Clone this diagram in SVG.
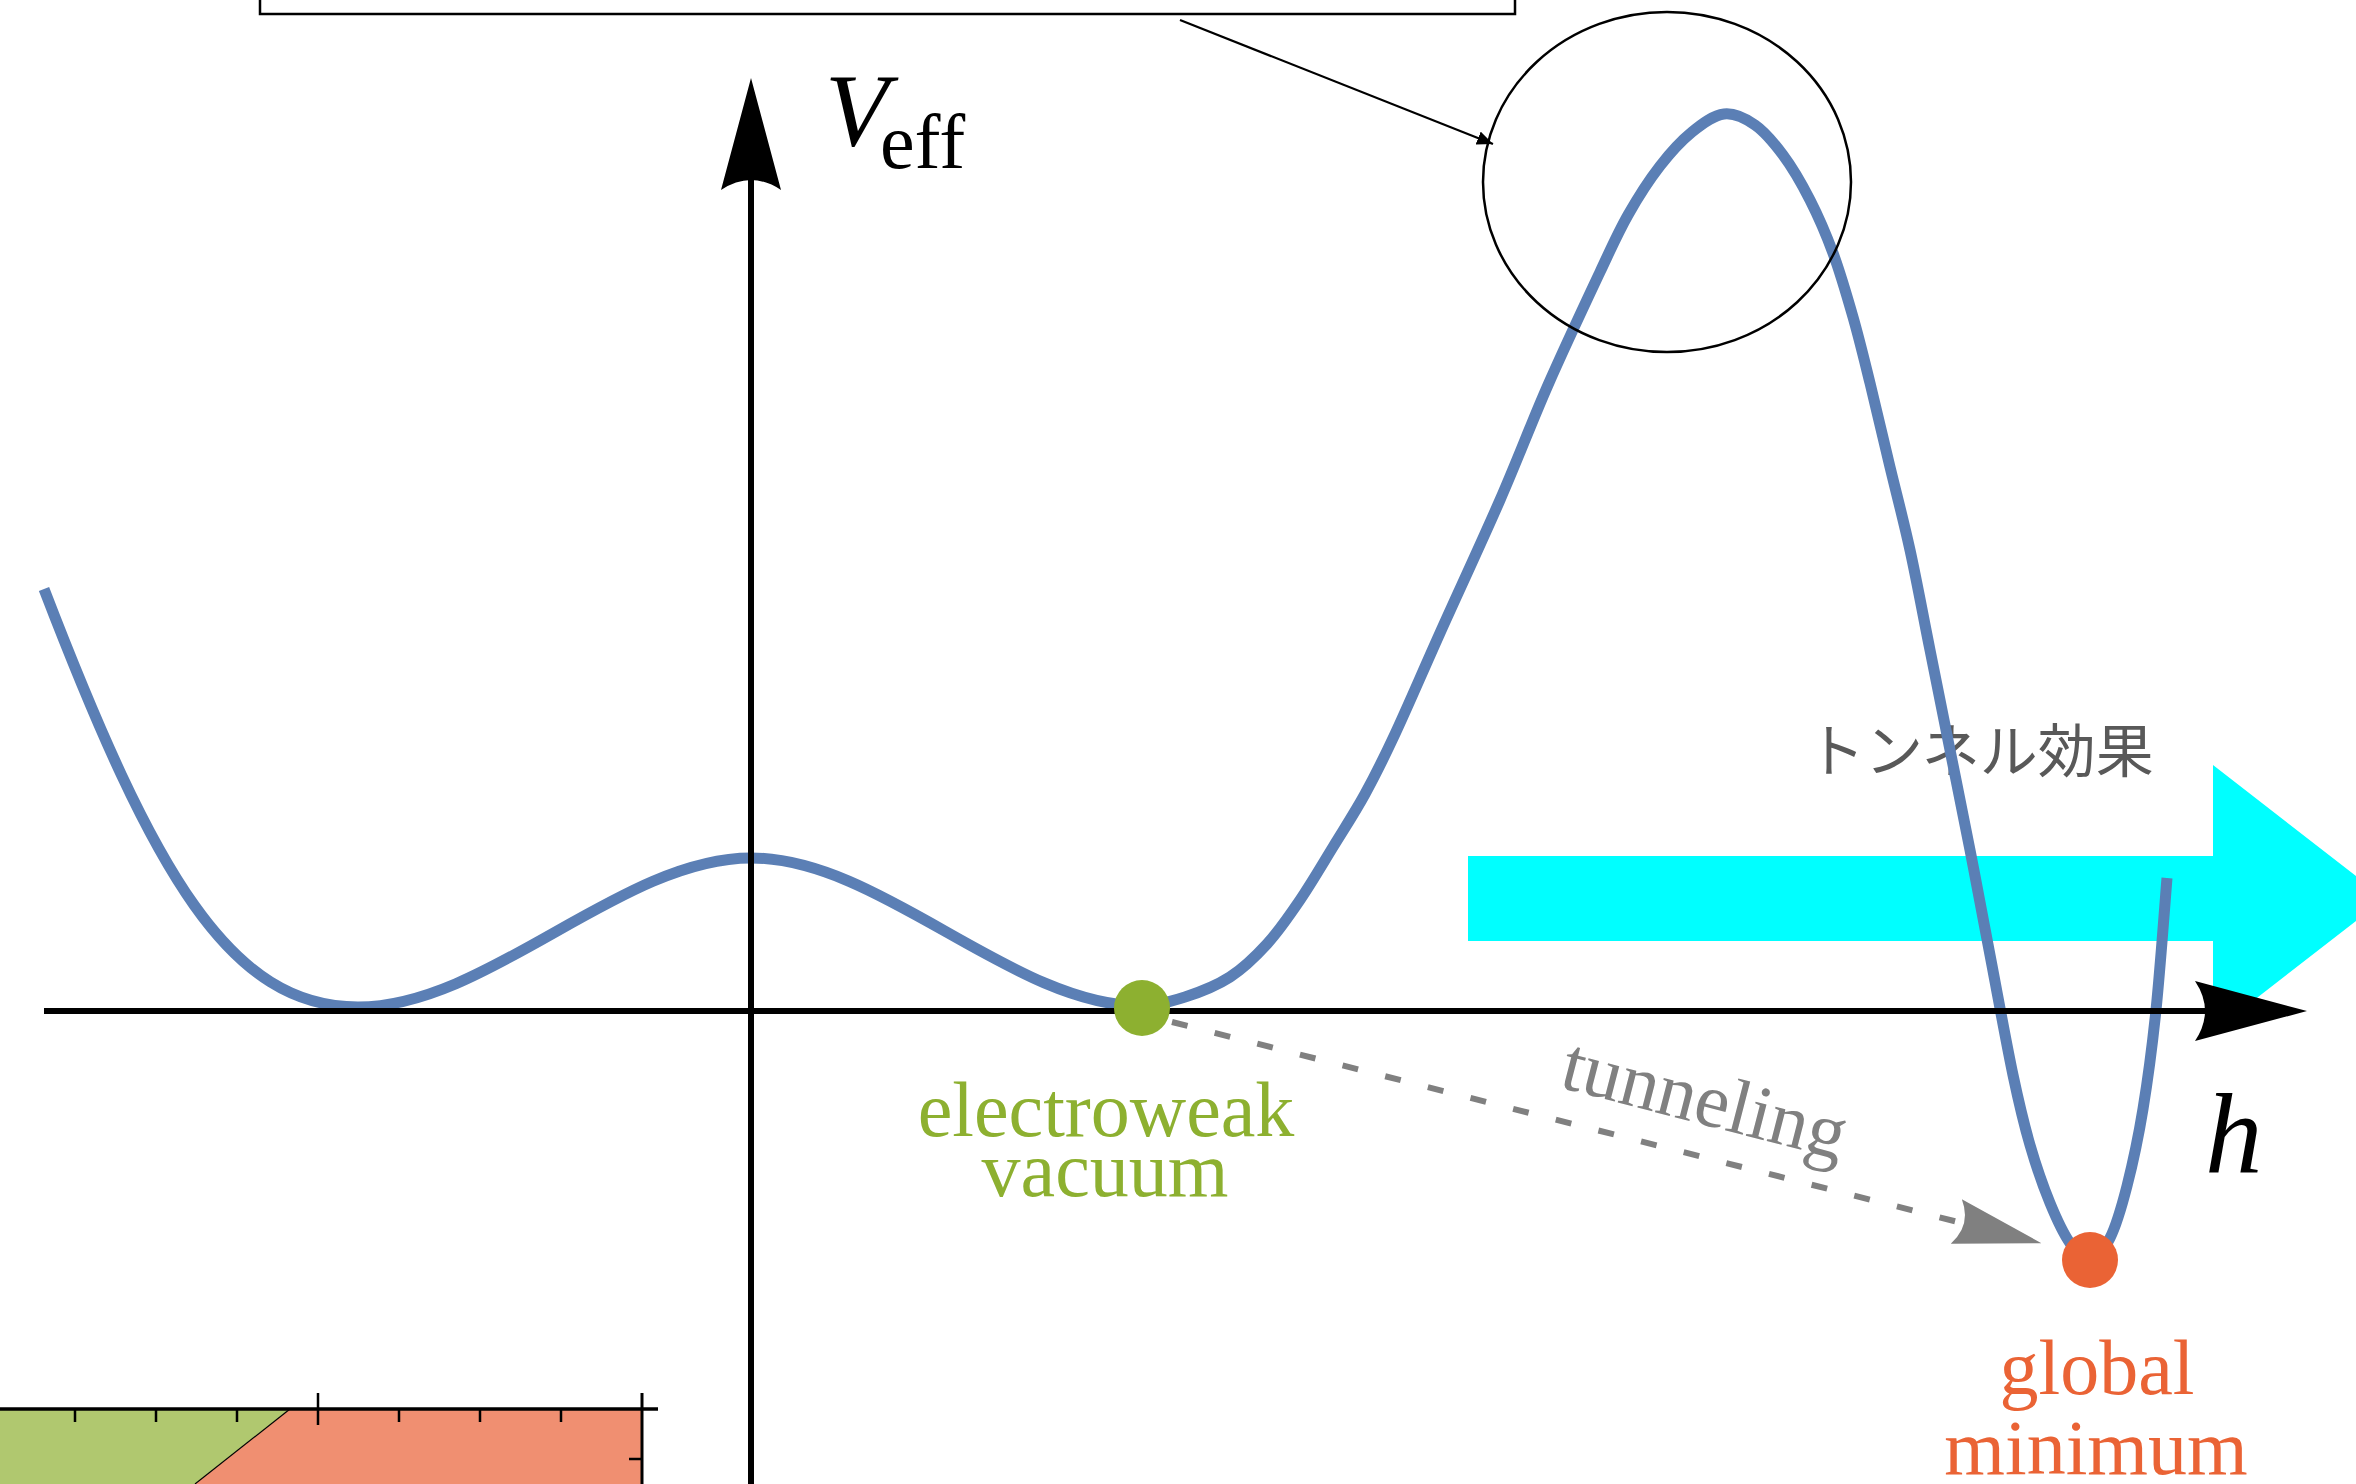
<svg xmlns="http://www.w3.org/2000/svg" width="2356" height="1484" viewBox="0 0 2356 1484">
<style>
.axis{stroke:#000;stroke-width:6;fill:none}
.curve{stroke:#5b7fb5;stroke-width:11;fill:none;stroke-linejoin:round}
.serif{font-family:"Liberation Serif","DejaVu Serif",serif}
.lbl{font-size:78px;text-anchor:middle}
.tick{stroke:#000;stroke-width:2.5}
</style>
<defs>
<marker id="axisHead" viewBox="0 0 112 60" refX="22" refY="30" markerWidth="112" markerHeight="60" markerUnits="userSpaceOnUse" orient="auto">
<path d="M0,0 L112,30 L0,60 Q20,30 0,0 Z" fill="#000"/>
</marker>
<marker id="grayHead" viewBox="0 0 88 46" refX="6" refY="23" markerWidth="88" markerHeight="46" markerUnits="userSpaceOnUse" orient="auto">
<path d="M0,0 L88,23 L0,46 Q16,23 0,0 Z" fill="#808080"/>
</marker>
<marker id="smallHead" viewBox="0 0 16 14" refX="16" refY="7" markerWidth="16" markerHeight="14" markerUnits="userSpaceOnUse" orient="auto">
<path d="M0,0 L16,7 L0,14 Z" fill="#000"/>
</marker>
</defs>
<rect width="2356" height="1484" fill="#fff"/>

<g id="inset">
<polygon points="0,1409 290,1409 195,1484 0,1484" fill="#b0c86f"/>
<polygon points="290,1409 642,1409 642,1484 195,1484" fill="#f08f71"/>
<line x1="290" y1="1409" x2="195" y2="1484" stroke="#000" stroke-width="1.2"/>
<line x1="0" y1="1409" x2="658" y2="1409" stroke="#000" stroke-width="3.5"/>
<line x1="642" y1="1393" x2="642" y2="1484" stroke="#000" stroke-width="3"/>
<line class="tick" x1="318" y1="1393" x2="318" y2="1425"/>
<line class="tick" x1="75" y1="1409" x2="75" y2="1422"/>
<line class="tick" x1="156" y1="1409" x2="156" y2="1422"/>
<line class="tick" x1="237" y1="1409" x2="237" y2="1422"/>
<line class="tick" x1="399" y1="1409" x2="399" y2="1422"/>
<line class="tick" x1="480" y1="1409" x2="480" y2="1422"/>
<line class="tick" x1="561" y1="1409" x2="561" y2="1422"/>
<line class="tick" x1="629" y1="1459" x2="642" y2="1459"/>
</g>

<g id="callout-box">
<rect x="260" y="-100" width="1255" height="114" fill="#fff" stroke="#000" stroke-width="2.5"/>
</g>

<g id="tunnel-effect-label">
<text x="1807" y="772" font-family="'Noto Sans CJK JP','Noto Sans',sans-serif" font-size="58" fill="#595959">トンネル効果</text>
</g>

<g id="tunnel-effect-arrow">
<polygon points="1468,856 2213,856 2213,765 2385,898.5 2213,1032 2213,941 1468,941" fill="#00ffff"/>
</g>

<g id="potential-curve">
<path class="curve" d="M44,589 C154,875 230,1007 358,1007 C488,1007 621,858 751,858 C881,858 1012,1006 1142,1006 C1156,1006 1170.3,1001.7 1185,997 S1216.3,985.8 1230,977 S1255.3,956.8 1267,944 S1289,916.2 1300,900 S1322.2,864.7 1333,847 S1354.7,812.8 1365,794 S1382.5,760.8 1395,734 S1422.5,672 1440,633 S1482,541.3 1500,500 S1531.3,423 1548,385 S1586.7,300.3 1600,272 S1618,232.7 1628,215 S1649.3,179.8 1660,166 S1681.3,140.7 1692,132 S1713.5,115.2 1724,114 S1745.2,118.2 1755,125 S1773.8,142.7 1783,155 S1801.7,183.7 1810,200 S1825.8,233.5 1833,253 S1846.8,295.3 1853,317 S1863.8,358 1870,383 S1883.3,439.2 1890,467 S1903.3,519.5 1910,550 S1923.3,616.7 1930,650 S1943.3,716.7 1950,750 S1963.3,815.8 1970,850 S1982.8,917.5 1990,955 S2006.3,1043.3 2013,1075 S2023.8,1123.7 2030,1145 S2043.3,1186.7 2050,1203 S2063.3,1233.5 2070,1243 S2083.3,1260.8 2090,1260 S2103.8,1250.3 2110,1238 S2121.5,1207.5 2127,1186 S2138.2,1138.3 2143,1109 S2152,1048.5 2156,1010 S2165.2,900 2167,878"/>
</g>

<g id="axes">
<line class="axis" x1="44" y1="1011" x2="2217" y2="1011" marker-end="url(#axisHead)"/>
<line class="axis" x1="751" y1="1484" x2="751" y2="168" marker-end="url(#axisHead)"/>
<text class="serif" x="825" y="145" font-size="104" font-style="italic">V</text>
<text class="serif" x="880" y="168" font-size="78">eff</text>
<text class="serif" x="2205" y="1173" font-size="115" font-style="italic">h</text>
</g>

<g id="highlight-circle">
<ellipse cx="1667" cy="182" rx="184" ry="170" fill="none" stroke="#000" stroke-width="2.5"/>
</g>

<g id="connectors">
<line x1="1180" y1="20" x2="1493" y2="144" stroke="#000" stroke-width="2.2" marker-end="url(#smallHead)"/>
<line x1="1172" y1="1022" x2="1962" y2="1223" stroke="#808080" stroke-width="6" stroke-dasharray="16 28" marker-end="url(#grayHead)"/>
<text class="serif" x="1558" y="1087" font-size="77" fill="#808080" transform="rotate(14.5 1558 1087)">tunneling</text>
</g>

<g id="electroweak-vacuum">
<circle cx="1142" cy="1008" r="28" fill="#8db030"/>
<text class="serif lbl" x="1106" y="1136" fill="#8db030">electroweak</text>
<text class="serif lbl" x="1105" y="1196" fill="#8db030">vacuum</text>
</g>

<g id="global-minimum">
<circle cx="2090" cy="1260" r="28" fill="#ea6335"/>
<text class="serif lbl" x="2097" y="1394" fill="#ea6335">global</text>
<text class="serif lbl" x="2096" y="1474" fill="#ea6335">minimum</text>
</g>
</svg>
